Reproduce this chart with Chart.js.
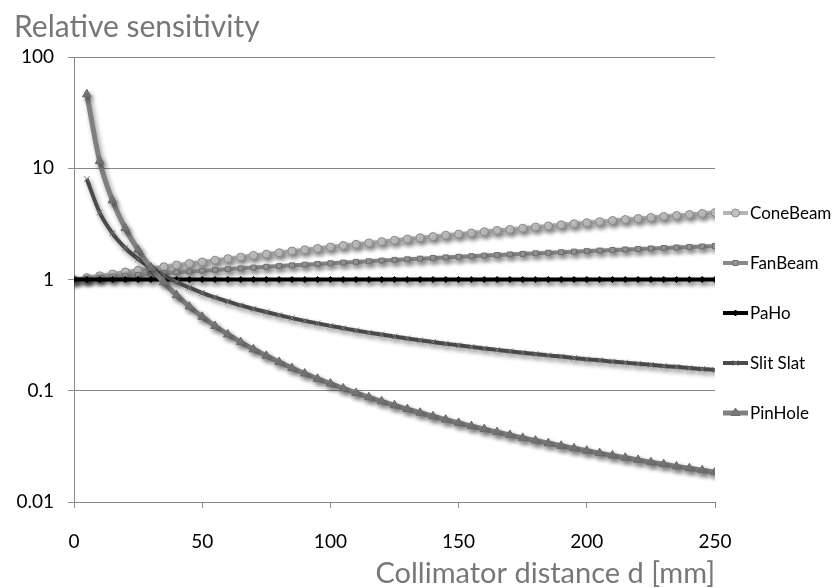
<!DOCTYPE html>
<html>
<head>
<meta charset="utf-8">
<script src="https://cdn.jsdelivr.net/npm/chart.js@4.4.0/dist/chart.umd.min.js"></script>
<style>
  html, body { margin: 0; padding: 0; background: #fff; }
  #wrap { width: 835px; height: 588px; }
</style>
</head>
<body>
<div id="wrap"><canvas id="chart"></canvas></div>
<script>
// collimator distance d [mm]
const distances = [0,5,10,15,20,25,30,35,40,45,50,55,60,65,70,75,80,85,90,95,100,
  105,110,115,120,125,130,135,140,145,150,155,160,165,170,175,180,185,190,195,200,
  205,210,215,220,225,230,235,240,245,250];

const coneBeam = [1.00,1.04,1.08,1.12,1.17,1.21,1.25,1.30,1.35,1.39,1.44,1.49,1.54,1.59,1.64,1.69,
  1.74,1.80,1.85,1.90,1.96,2.02,2.07,2.13,2.19,2.25,2.31,2.37,2.43,2.50,2.56,2.62,2.69,2.76,2.82,
  2.89,2.96,3.03,3.10,3.17,3.24,3.31,3.39,3.46,3.53,3.61,3.69,3.76,3.84,3.92,4.00];

const fanBeam = [1.00,1.02,1.04,1.06,1.08,1.10,1.12,1.14,1.16,1.18,1.20,1.22,1.24,1.26,1.28,1.30,
  1.32,1.34,1.36,1.38,1.40,1.42,1.44,1.46,1.48,1.50,1.52,1.54,1.56,1.58,1.60,1.62,1.64,1.66,1.68,
  1.70,1.72,1.74,1.76,1.78,1.80,1.82,1.84,1.86,1.88,1.90,1.92,1.94,1.96,1.98,2.00];

const paHo = [1,1,1,1,1,1,1,1,1,1,1,1,1,1,1,1,1,1,1,1,1,1,1,1,1,1,
  1,1,1,1,1,1,1,1,1,1,1,1,1,1,1,1,1,1,1,1,1,1,1,1,1];

const slitSlat = [null,8.0,4.0,2.6,1.92,1.53,1.27,1.09,0.95,0.845,0.76,0.69,0.635,0.585,0.545,0.51,
  0.478,0.45,0.425,0.403,0.383,0.365,0.348,0.333,0.32,0.307,0.295,0.284,0.274,0.265,0.256,0.248,
  0.24,0.233,0.226,0.22,0.214,0.208,0.203,0.197,0.192,0.188,0.183,0.179,0.175,0.171,0.167,0.164,
  0.16,0.157,0.154];

const pinHole = [null,46.2,11.6,5.14,2.89,1.85,1.28,0.944,0.723,0.571,0.462,0.382,0.321,0.274,0.236,
  0.206,0.181,0.16,0.143,0.128,0.116,0.105,0.0955,0.0874,0.0803,0.074,0.0684,0.0634,0.059,0.055,
  0.0514,0.0481,0.0452,0.0425,0.04,0.0377,0.0357,0.0338,0.032,0.0304,0.0289,0.0275,0.0262,0.025,
  0.0239,0.0228,0.0219,0.0209,0.0201,0.0193,0.0185];

const yTicks = [0.01, 0.1, 1, 10, 100];
const xTicks = [0, 50, 100, 150, 200, 250];

const FONT = 'Lato, "Open Sans", sans-serif';

function pts(values) {
  return distances.map((d, i) => ({ x: d, y: values[i] }));
}

const series = [
  { label: 'ConeBeam', values: coneBeam, line: '#b4b4b4', fill: '#c2c2c2', edge: '#8a8a8a', style: 'circle', r: 4, w: 4 },
  { label: 'FanBeam', values: fanBeam, line: '#8a8a8a', fill: '#9a9a9a', edge: '#6e6e6e', style: 'rect', r: 3.5, w: 4 },
  { label: 'PaHo', values: paHo, line: '#000000', fill: '#000000', edge: '#000000', style: 'rectRot', r: 3, w: 4 },
  { label: 'Slit Slat', values: slitSlat, line: '#4b4b4b', fill: '#666666', edge: '#777777', style: 'crossRot', r: 4, w: 4 },
  { label: 'PinHole', values: pinHole, line: '#808080', fill: '#7a7a7a', edge: '#6a6a6a', style: 'triangle', r: 5, w: 5 }
];

// soft drop shadow like the spreadsheet original
const shadowPlugin = {
  id: 'shadow',
  beforeDatasetsDraw(chart) {
    const ctx = chart.ctx;
    ctx.save();
    ctx.shadowColor = 'rgba(0,0,0,0.4)';
    ctx.shadowBlur = 5;
    ctx.shadowOffsetX = 2;
    ctx.shadowOffsetY = 3;
  },
  afterDatasetsDraw(chart) {
    chart.ctx.restore();
  }
};

// legend on the right, one entry per 50px
const sideLegend = {
  id: 'sideLegend',
  afterDraw(chart) {
    const ctx = chart.ctx;
    const x0 = 723, x1 = 748, yStart = 213, step = 50;
    ctx.save();
    series.forEach((s, i) => {
      const y = yStart + i * step;
      ctx.strokeStyle = s.line;
      ctx.lineWidth = s.w;
      ctx.beginPath();
      ctx.moveTo(x0, y);
      ctx.lineTo(x1, y);
      ctx.stroke();
      ctx.fillStyle = s.fill;
      ctx.strokeStyle = s.edge;
      ctx.lineWidth = 1;
      Chart.helpers.drawPoint(ctx, { pointStyle: s.style, radius: s.r, borderWidth: 1, rotation: 0 }, (x0 + x1) / 2, y);
      ctx.fillStyle = '#000';
      ctx.font = '17px ' + FONT;
      ctx.textAlign = 'left';
      ctx.textBaseline = 'middle';
      ctx.fillText(s.label, x1 + 2, y + 1);
    });
    ctx.restore();
  }
};

new Chart(document.getElementById('chart'), {
  type: 'line',
  data: {
    datasets: series.map((s, i) => ({
      label: s.label,
      data: pts(s.values),
      borderColor: s.line,
      borderWidth: s.w,
      backgroundColor: s.fill,
      pointStyle: s.style,
      pointRadius: s.r,
      pointBackgroundColor: s.fill,
      pointBorderColor: s.edge,
      pointBorderWidth: 1,
      cubicInterpolationMode: 'monotone',
      spanGaps: false,
      order: series.length - i
    }))
  },
  options: {
    responsive: true,
    maintainAspectRatio: false,
    animation: false,
    layout: { padding: { left: 14, right: 120, top: 0, bottom: 0 } },
    plugins: {
      legend: { display: false },
      tooltip: { enabled: false },
      title: {
        display: true,
        text: 'Relative sensitivity',
        align: 'start',
        color: '#777777',
        font: { family: FONT, size: 30, weight: 'normal' },
        padding: { top: 9, bottom: 12 }
      }
    },
    scales: {
      x: {
        type: 'linear',
        min: 0,
        max: 250,
        afterBuildTicks(scale) { scale.ticks = xTicks.map(v => ({ value: v })); },
        afterFit(scale) { scale.height = 86; },
        grid: { drawOnChartArea: false, drawTicks: true, tickLength: 6, color: '#888888' },
        border: { display: true, color: '#888888', width: 1 },
        ticks: { color: '#000', font: { family: FONT, size: 19 }, padding: 22, maxRotation: 0 },
        title: {
          display: true,
          text: 'Collimator distance d [mm]',
          align: 'end',
          color: '#777777',
          font: { family: FONT, size: 29, weight: 'normal' },
          padding: { top: 0, bottom: -3 }
        }
      },
      y: {
        type: 'logarithmic',
        min: 0.01,
        max: 100,
        afterBuildTicks(scale) { scale.ticks = yTicks.map(v => ({ value: v })); },
        afterFit(scale) { scale.width = 60; },
        grid: { color: '#888888', lineWidth: 1, drawTicks: true, tickLength: 6 },
        border: { display: true, color: '#888888', width: 1 },
        ticks: {
          color: '#000',
          font: { family: FONT, size: 19 },
          padding: 14,
          callback: v => String(v)
        }
      }
    }
  },
  plugins: [shadowPlugin, sideLegend]
});
</script>
</body>
</html>
